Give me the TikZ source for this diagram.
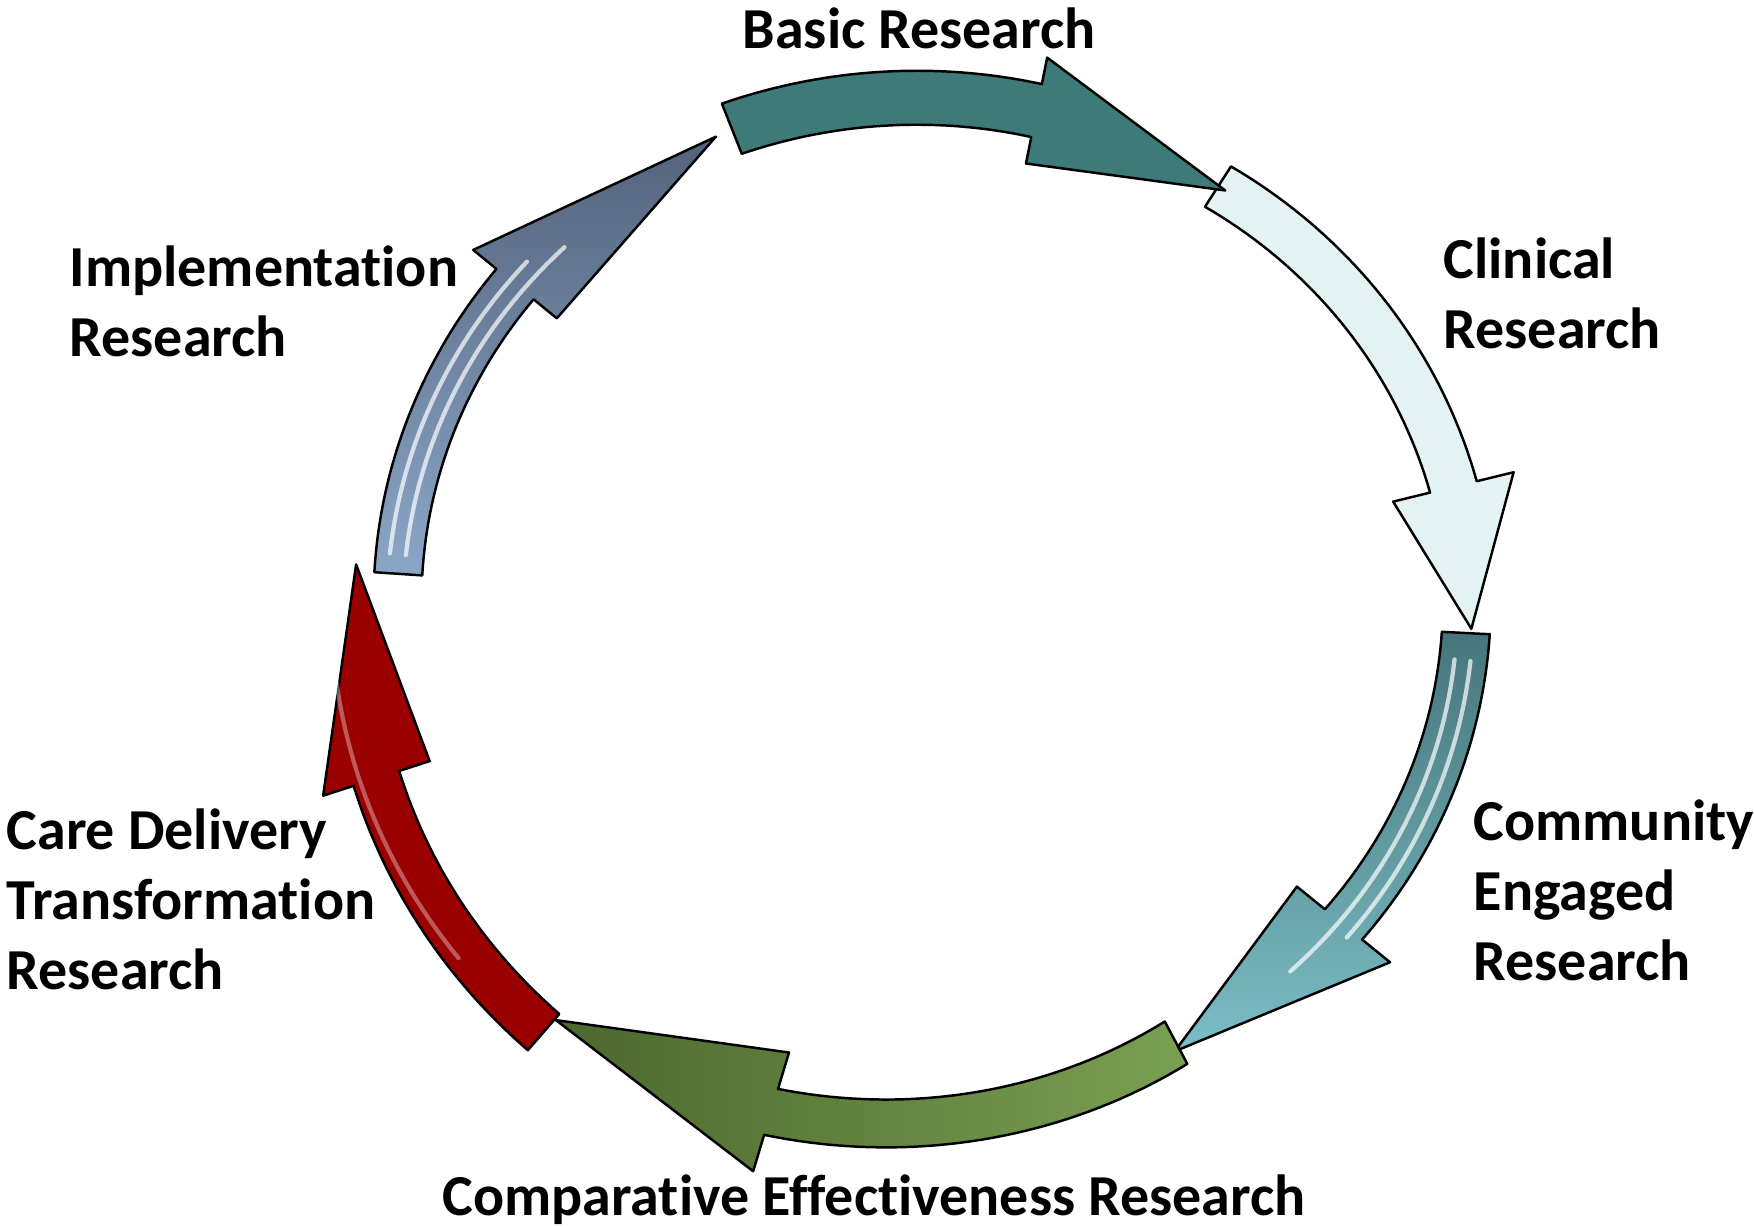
\documentclass[tikz,border=0pt]{standalone}
\usepackage{fontspec}
\setmainfont{Carlito}[Ligatures=NoCommon]
\usepackage{xcolor}

\definecolor{basicteal}{RGB}{61,122,120}
\definecolor{clinicalcyan}{RGB}{227,242,243}
\definecolor{communitytop}{RGB}{70,118,124}
\definecolor{communitybot}{RGB}{124,189,197}
\definecolor{compdark}{RGB}{76,104,46}
\definecolor{complight}{RGB}{122,160,82}
\definecolor{carered}{RGB}{154,0,0}
\definecolor{impltop}{RGB}{84,99,124}
\definecolor{implbot}{RGB}{138,166,199}

\newcommand{\cyclecx}{931.8}
\newcommand{\cyclecy}{607.4}
\newcommand{\cyclerx}{534.7}
\newcommand{\cyclery}{506.7}

% style, tail, head base, tip, scale at tail, scale at tip, shaft half width, head half width
\newcommand{\cyclearrow}[8]{%
	\path[#1, declare function={cycsc(\angl)=(#5)+((#6)-(#5))*(\angl-(#2))/((#4)-(#2));
			cycpx(\angl,\offs)=\cyclecx+(cycsc(\angl)*\cyclerx+\offs)*cos(\angl);
			cycpy(\angl,\offs)=\cyclecy+(cycsc(\angl)*\cyclery+\offs)*sin(\angl);}]
		plot[domain=#2:#3, samples=40] ({cycpx(\x,#7)},{cycpy(\x,#7)})
		-- ({cycpx(#3,#8)},{cycpy(#3,#8)})
		-- ({cycpx(#4,0)},{cycpy(#4,0)})
		-- ({cycpx(#3,-#8)},{cycpy(#3,-#8)})
		-- plot[domain=#3:#2, samples=40] ({cycpx(\x,-#7)},{cycpy(\x,-#7)})
		-- cycle;
}

% from, to, scale, offset, opacity
\newcommand{\cycleshine}[5]{%
	\draw[white, line width=1.2pt, line cap=round, opacity=#5]
		plot[domain=#1:#2, samples=30] ({\cyclecx+(#3*\cyclerx+#4)*cos(\x)},{\cyclecy+(#3*\cyclery+#4)*sin(\x)});
}

\begin{document}
\begin{tikzpicture}[x=0.1mm, y=-0.1mm,
		arrowbody/.style={draw=black, line width=0.7pt, line join=round},
		cyclelabel/.style={font=\fontsize{16.5}{19.9}\selectfont\bfseries, inner sep=0pt, align=left, anchor=north west}]
	\useasboundingbox (0,0) rectangle (1754,1227);

	\cyclearrow{arrowbody, fill=clinicalcyan}{-57.2}{-13.7}{2.4}{0.988}{1.01}{24}{62}
	\cyclearrow{arrowbody, top color=communitytop, bottom color=communitybot}{2.9}{39.1}{62.6}{1.0}{0.987}{24}{60}
	\cycleshine{6}{47}{0.998}{-8}{0.7}
	\cycleshine{6}{40}{0.998}{8}{0.7}
	\cyclearrow{arrowbody, left color=compdark, right color=complight}{62.0}{106.8}{130.8}{0.973}{1.076}{24}{62}
	\cyclearrow{arrowbody, fill=carered}{130.9}{162}{184.5}{1.109}{1.08}{24}{56}
	\cycleshine{142}{176}{1.095}{15}{0.35}
	\cyclearrow{arrowbody, top color=impltop, bottom color=implbot}{183.8}{219.3}{246.5}{1.0}{1.013}{24}{54}
	\cycleshine{186}{226}{1.004}{-8}{0.7}
	\cycleshine{186}{222}{1.004}{8}{0.7}
	\cyclearrow{arrowbody, fill=basicteal}{248.4}{281.3}{303.7}{1.016}{0.989}{27}{54}

	\node[cyclelabel] (basic) at (742,7) {Basic Research};
	\node[cyclelabel] (clinical) at (1443,237) {Clinical\\Research};
	\node[cyclelabel] (community) at (1473,799) {Community\\Engaged\\Research};
	\node[cyclelabel] (comparative) at (442,1174) {Comparative Effectiveness Research};
	\node[cyclelabel] (care) at (6,808) {Care Delivery\\Transformation\\Research};
	\node[cyclelabel] (implementation) at (69,245) {Implementation\\Research};
\end{tikzpicture}
\end{document}
